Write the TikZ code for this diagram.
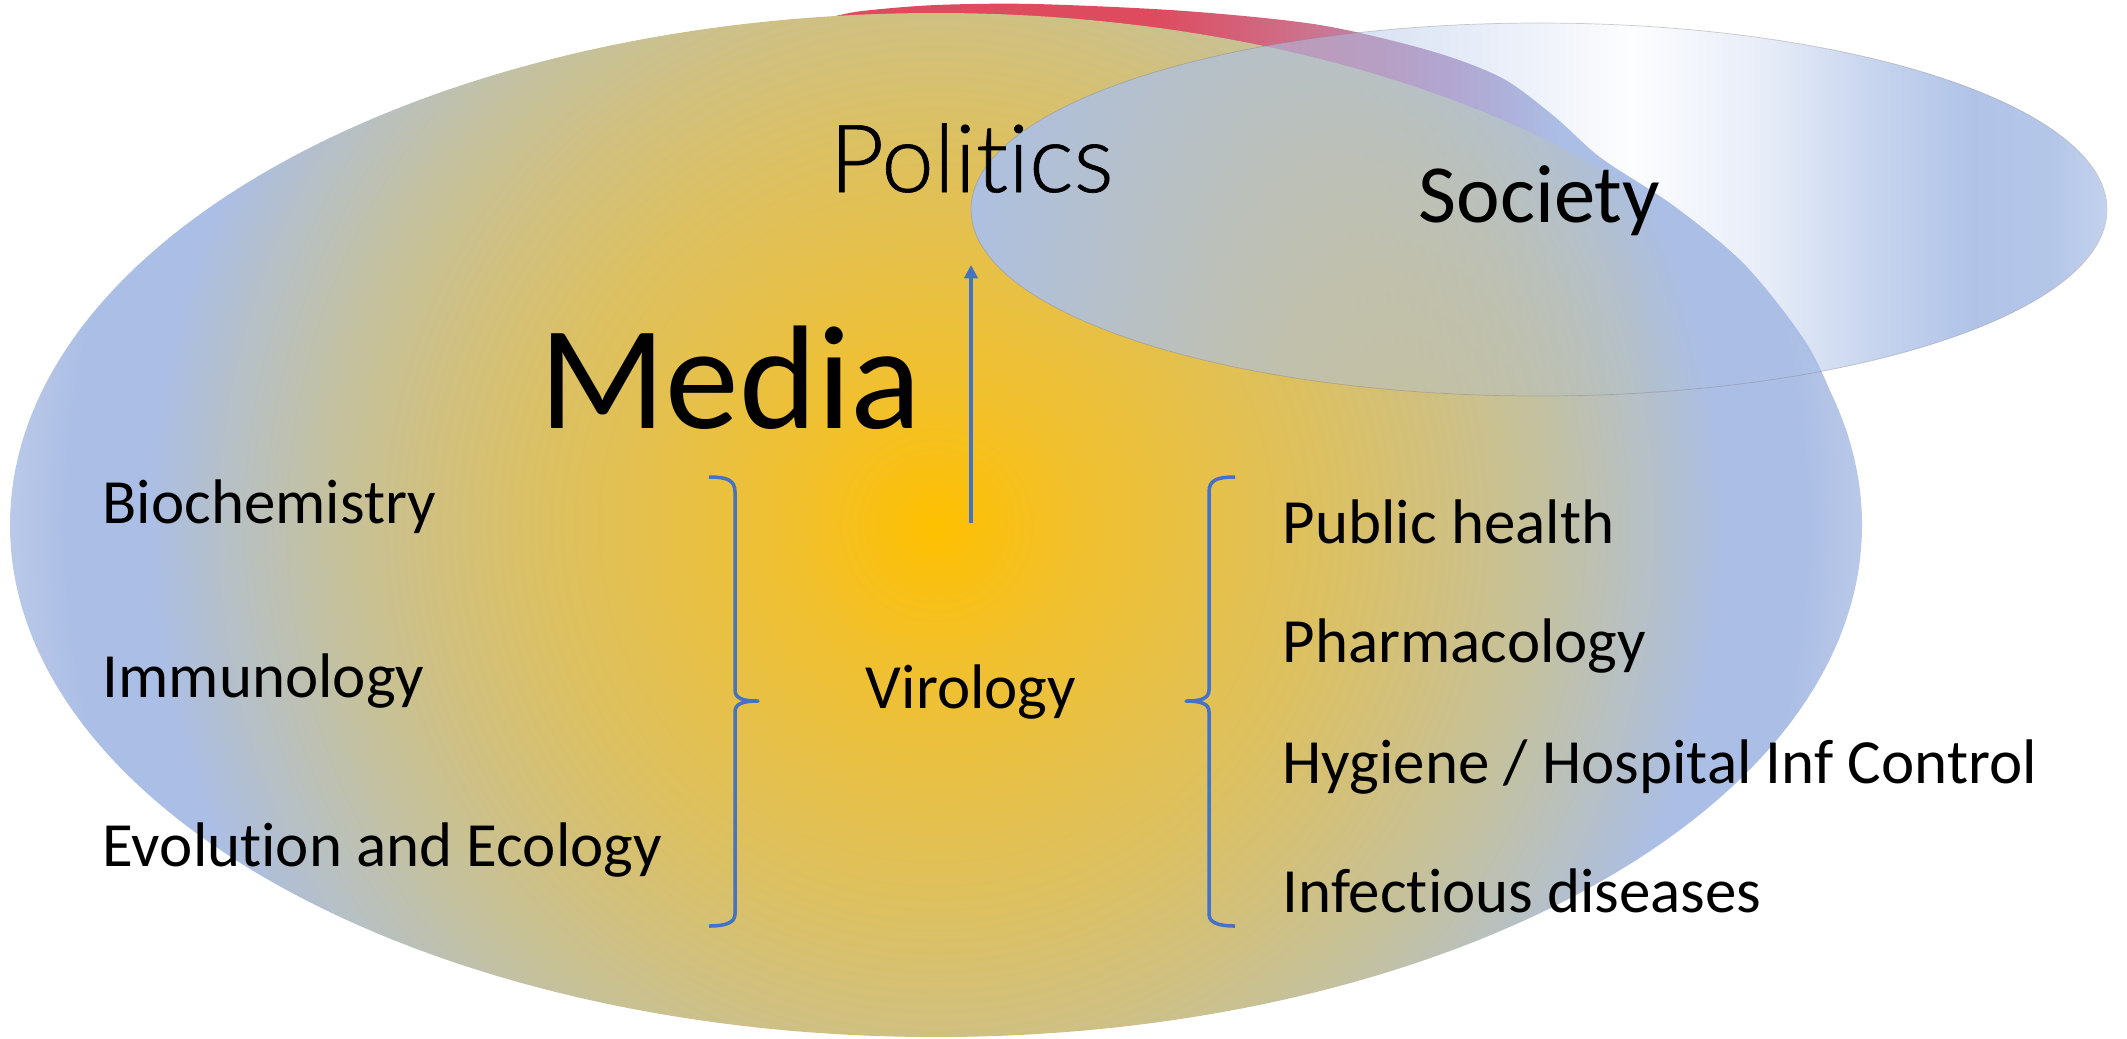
\documentclass[tikz,border=0pt]{standalone}
\usepackage{fontspec}
\setmainfont{Carlito}[Ligatures=CommonOff]
\newfontfamily\thinfont{Lato Light}[Ligatures=CommonOff, FakeBold=0.7]
\usetikzlibrary{arrows.meta,fadings}

\definecolor{mediaA}{RGB}{255,192,0}
\definecolor{mediaB}{RGB}{241,192,45}
\definecolor{mediaC}{RGB}{231,192,70}
\definecolor{mediaD}{RGB}{220,192,97}
\definecolor{mediaE}{RGB}{208,192,128}
\definecolor{mediaF}{RGB}{197,193,157}
\definecolor{mediaG}{RGB}{184,192,192}
\definecolor{mediaH}{RGB}{171,190,229}
\definecolor{mediaI}{RGB}{186,201,233}
\definecolor{polred}{RGB}{222,74,94}
\definecolor{polmid}{RGB}{205,112,138}
\definecolor{polviolet}{RGB}{180,155,200}
\definecolor{polblue}{RGB}{170,190,230}
\definecolor{societyblue}{RGB}{172,192,230}
\definecolor{bracketblue}{RGB}{68,114,196}

\pgfdeclareradialshading{mediashade}{\pgfpointorigin}{%
  color(0bp)=(mediaA); color(3.75bp)=(mediaB); color(7bp)=(mediaC);
  color(10.5bp)=(mediaD); color(13.75bp)=(mediaE); color(16.25bp)=(mediaF);
  color(18.75bp)=(mediaG); color(21.25bp)=(mediaH); color(23.5bp)=(mediaH);
  color(25bp)=(mediaI); color(50bp)=(mediaI)}
\pgfdeclarehorizontalshading{politicsshade}{100bp}{%
  color(0bp)=(polred); color(40.9bp)=(polred); color(48.1bp)=(polmid);
  color(55.3bp)=(polviolet); color(60.6bp)=(polblue); color(100bp)=(polblue)}
% the ellipse sees only 37.5bp..62.5bp of this one
\pgfdeclarehorizontalshading{societyalpha}{100bp}{%
  color(0bp)=(white!97!black); color(37.5bp)=(white!97!black);
  color(40bp)=(white!85!black); color(42.5bp)=(white!70!black);
  color(46.25bp)=(white!45!black); color(50bp)=(white!20!black);
  color(52bp)=(white!3!black); color(55bp)=(white!30!black);
  color(57.5bp)=(white!70!black); color(59.5bp)=(white!95!black);
  color(61.25bp)=(white!90!black); color(62.5bp)=(white!72!black);
  color(100bp)=(white!72!black)}
\begin{tikzfadingfrompicture}[name=societyfade]
  \shade[shading=societyalpha] (-50bp,-50bp) rectangle (50bp,50bp);
\end{tikzfadingfrompicture}

\begin{document}
\begin{tikzpicture}[x=0.01cm, y=-0.01cm,
    fieldtext/.style={font=\fontsize{17.9}{21}\selectfont, anchor=base west, inner sep=0pt},
    bracket/.style={draw=bracketblue, line width=1pt, line join=round},
    riser/.style={draw=bracketblue, line width=1.1pt, -{Triangle[length=3.8pt,width=3.8pt]}}]
    \useasboundingbox (0,0) rectangle (2127,1038);

    % politics rim, mostly hidden behind the media ellipse
    \begin{scope}
        \clip plot[smooth] coordinates {(832,17) (862,11) (936,5) (1035,4) (1185,11)
            (1320,25) (1431,51) (1502,78) (1555,117) (1601,158) (1674,206)
            (1746,266) (1810,349) (1848,436)} -- (1500,500) -- (830,300) -- cycle;
        \shade[shading=politicsshade] (820,0) rectangle (1860,520);
    \end{scope}

    \begin{scope}
        \clip (936,525) ellipse [x radius=926, y radius=512];
        \shade[shading=mediashade] (936,525) circle [radius=926];
    \end{scope}

    \fill[societyblue, path fading=societyfade]
        (1539,209.5) ellipse [x radius=568, y radius=186.5];
    \draw[black!50, line width=0.2pt, draw opacity=0.4]
        (1539,209.5) ellipse [x radius=568, y radius=186.5];

    \foreach \bx/\bs in {735/1, 1209/-1}
        \draw[bracket] ({\bx-26*\bs},477) .. controls ({\bx-8*\bs},477) and (\bx,480) .. (\bx,492)
            -- (\bx,690) .. controls (\bx,698) and ({\bx+7*\bs},701) .. ({\bx+23*\bs},701)
            .. controls ({\bx+7*\bs},701) and (\bx,704) .. (\bx,712)
            -- (\bx,914) .. controls (\bx,922) and ({\bx-8*\bs},926) .. ({\bx-26*\bs},926);

    \node[fieldtext] (biochem) at (102,523) {Biochemistry};
    \node[fieldtext] (immuno) at (102,697) {Immunology};
    \node[fieldtext] (evoeco) at (102,866) {Evolution and Ecology};
    \node[fieldtext] (pubhealth) at (1282,543) {Public health};
    \node[fieldtext] (pharma) at (1282,662) {Pharmacology};
    \node[fieldtext] (hygiene) at (1282,783) {Hygiene / Hospital Inf Control};
    \node[fieldtext] (infect) at (1282,912) {Infectious diseases};
    \node[fieldtext, anchor=base] (virology) at (971,708) {Virology};
    \node[fieldtext, font=\fontsize{42}{48}\selectfont] (media) at (539,428) {Media};
    \node[fieldtext, font=\thinfont\fontsize{26.8}{32}\selectfont] (politics) at (829,192) {Politics};
    \node[fieldtext, font=\fontsize{23.5}{28}\selectfont] (society) at (1418,222) {Society};

    \coordinate (risebase) at (971,523);
    \coordinate (risetip) at (971,265);
    \draw[riser] (risebase) -- (risetip);
\end{tikzpicture}
\end{document}
